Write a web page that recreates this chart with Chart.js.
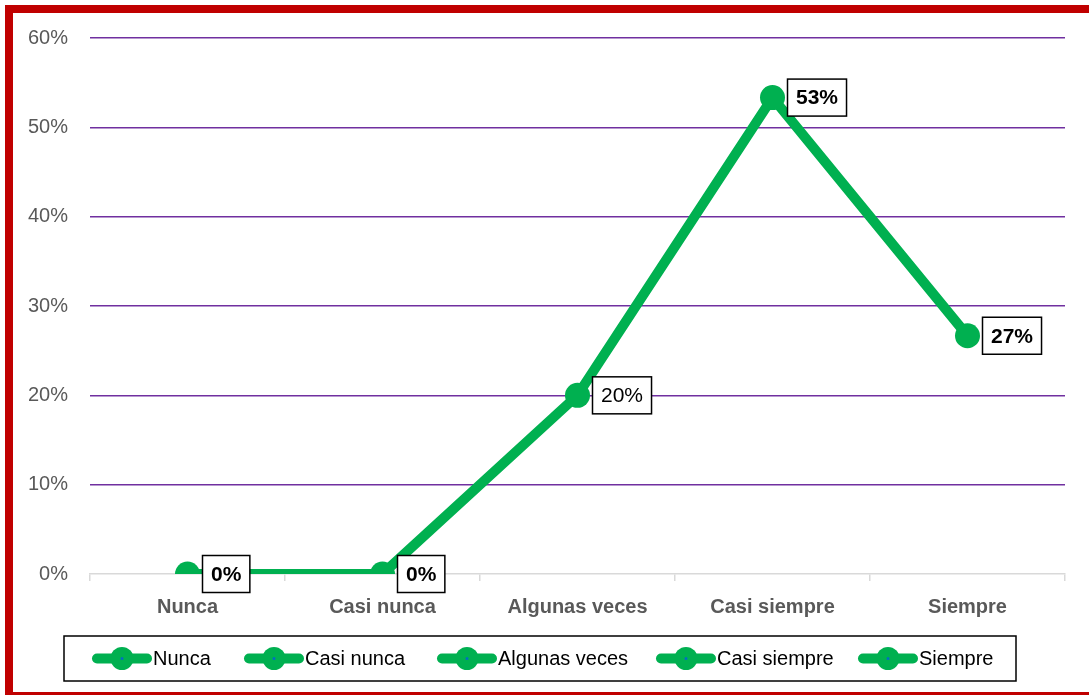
<!DOCTYPE html>
<html>
<head>
<meta charset="utf-8">
<script src="https://cdn.jsdelivr.net/npm/chart.js@4.4.0/dist/chart.umd.min.js"></script>
<style>
  html, body { margin: 0; padding: 0; background: #fff; overflow: hidden; width: 1089px; height: 695px; }
  #frame { position: absolute; left: 5px; top: 5px; width: 1110px; height: 695px; border: 8px solid #C00000; box-sizing: border-box; }
  #c { position: absolute; left: 0; top: 0; }
</style>
</head>
<body>
<div id="frame"></div>
<canvas id="c" width="1089" height="695"></canvas>
<script>
const categories = ["Nunca", "Casi nunca", "Algunas veces", "Casi siempre", "Siempre"];
const values = [0, 0, 20, 53.33, 26.67];
const valueLabels = ["0%", "0%", "20%", "53%", "27%"];
const labelBold = [true, true, false, true, true];
const yTicks = [0, 10, 20, 30, 40, 50, 60];

const GREEN = "#00B050";
const FONT = "'Liberation Sans', Arial, sans-serif";

const dataLabelPlugin = {
  id: "dataLabelBoxes",
  afterDatasetsDraw(chart) {
    const ctx = chart.ctx;
    const meta = chart.getDatasetMeta(0);
    ctx.save();
    meta.data.forEach((pt, i) => {
      const txt = valueLabels[i];
      ctx.font = (labelBold[i] ? "bold " : "") + "21px " + FONT;
      const tw = ctx.measureText(txt).width;
      const w = tw + 17, h = 37;
      const x = pt.x + 15, y = pt.y - h / 2;
      ctx.fillStyle = "#fff";
      ctx.fillRect(x, y, w, h);
      ctx.strokeStyle = "#000";
      ctx.lineWidth = 1.5;
      ctx.strokeRect(x, y, w, h);
      ctx.fillStyle = "#000";
      ctx.textAlign = "center";
      ctx.textBaseline = "middle";
      ctx.fillText(txt, x + w / 2, pt.y + 1);
    });
    ctx.restore();
  }
};

const legendPlugin = {
  id: "customLegend",
  afterDraw(chart) {
    const ctx = chart.ctx;
    ctx.save();
    const bx = 64, by = 636, bw = 952, bh = 45;
    ctx.strokeStyle = "#000";
    ctx.lineWidth = 1.5;
    ctx.strokeRect(bx, by, bw, bh);
    ctx.font = "20px " + FONT;
    const cy = by + bh / 2;
    const itemX = [92, 244, 437, 656, 858];
    categories.forEach((name, i) => {
      const x = itemX[i];
      ctx.strokeStyle = GREEN;
      ctx.lineWidth = 10;
      ctx.lineCap = "round";
      ctx.beginPath();
      ctx.moveTo(x + 5, cy);
      ctx.lineTo(x + 55, cy);
      ctx.stroke();
      ctx.fillStyle = GREEN;
      ctx.beginPath();
      ctx.arc(x + 30, cy, 11.5, 0, Math.PI * 2);
      ctx.fill();
      ctx.fillStyle = "#0070C0";
      ctx.beginPath();
      ctx.arc(x + 30, cy, 1.5, 0, Math.PI * 2);
      ctx.fill();
      ctx.fillStyle = "#000";
      ctx.textAlign = "left";
      ctx.textBaseline = "middle";
      ctx.fillText(name, x + 61, cy + 1);
    });
    ctx.restore();
  }
};

new Chart(document.getElementById("c"), {
  type: "line",
  data: {
    labels: categories,
    datasets: [{
      data: values,
      borderColor: GREEN,
      backgroundColor: GREEN,
      borderWidth: 10,
      pointRadius: 12.5,
      pointHoverRadius: 12.5,
      pointBorderWidth: 0,
      pointBackgroundColor: GREEN,
      tension: 0,
      fill: false
    }]
  },
  options: {
    responsive: false,
    animation: false,
    events: [],
    layout: { padding: { top: 38, left: 0, right: 24, bottom: 76 } },
    plugins: { legend: { display: false }, tooltip: { enabled: false } },
    scales: {
      x: {
        offset: true,
        grid: { offset: true, drawOnChartArea: false, drawTicks: true, tickLength: 7, color: "#D9D9D9", lineWidth: 1.5 },
        border: { display: true, color: "#D9D9D9", width: 1.5 },
        ticks: { color: "#595959", font: { family: FONT, size: 20, weight: "bold" }, padding: 14, maxRotation: 0 },
        afterFit(s) { s.height = 45; }
      },
      y: {
        min: 0, max: 60,
        afterBuildTicks(s) { s.ticks = yTicks.map(v => ({ value: v })); },
        grid: {
          drawTicks: false,
          color: (c) => c.tick && c.tick.value === 0 ? "rgba(0,0,0,0)" : "#7030A0",
          lineWidth: 1.5
        },
        border: { display: false },
        ticks: { color: "#595959", font: { family: FONT, size: 20 }, padding: 22, callback: (v) => v + "%" },
        afterFit(s) { s.width = 90; }
      }
    }
  },
  plugins: [dataLabelPlugin, legendPlugin]
});
</script>
</body>
</html>
